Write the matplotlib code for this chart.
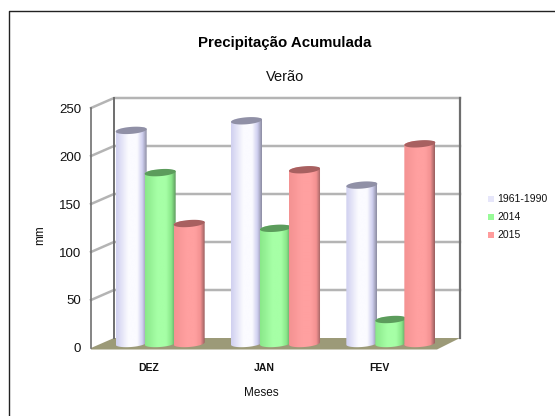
import numpy as np
import matplotlib
matplotlib.use("Agg")
import matplotlib.pyplot as plt
from matplotlib.patches import Polygon, Rectangle
from matplotlib.colors import LinearSegmentedColormap

plt.rcParams['font.family'] = ['Liberation Sans', 'DejaVu Sans']

months = ['DEZ', 'JAN', 'FEV']
series = ['1961-1990', '2014', '2015']
v_normal = [222, 232, 165]
v_2014 = [178, 120, 25]
v_2015 = [125, 181, 208]
values = [v_normal, v_2014, v_2015]
yticks = [0, 50, 100, 150, 200, 250]

W, H = 555, 416
fig = plt.figure(figsize=(W/100, H/100), dpi=100, facecolor='white')
L, R, T, B = 91, 437, 108, 348
ax = fig.add_axes([L/W, 1-B/H, (R-L)/W, (B-T)/H])
ax.set_xlim(0, 3); ax.set_ylim(0, 250)
ax.patch.set_visible(False)
for s in ['top', 'right', 'bottom']:
    ax.spines[s].set_visible(False)
ax.spines['left'].set_color('#707070')
ax.spines['left'].set_linewidth(1.2)

DX, DY = 23, 10
xu = 3/(R-L); yu = 250/(B-T)
# floor
ax.add_patch(Polygon([(0, -1.5*yu), (0, 0), (DX*xu, DY*yu), (3+DX*xu, DY*yu), (3, -1.5*yu)], closed=True,
                     facecolor='#9c9a78', edgecolor='none', zorder=1, clip_on=False))
# gridlines
for t in yticks[1:]:
    ax.plot([0, DX*xu, 3+DX*xu], [t, t+DY*yu, t+DY*yu], color='#b4b4b4', lw=1.8, zorder=1,
            clip_on=False, solid_joinstyle='miter')
ax.plot([DX*xu, DX*xu], [DY*yu, 250+DY*yu], color='#6e6e6e', lw=1.4, zorder=1.5, clip_on=False)
ax.plot([3+DX*xu]*2, [DY*yu, 250+DY*yu], color='#6e6e6e', lw=1.6, zorder=1.5, clip_on=False)

styles = [
    dict(edge='#d0d0f0', mid='#fbfbff', dark='#8e8ea4', top='#9090a6'),
    dict(edge='#8ae88a', mid='#a6ffa6', dark='#5f9a5f', top='#5c9c5c'),
    dict(edge='#f49292', mid='#ffa0a0', dark='#9a6060', top='#a86060'),
]
bw = 31*xu
step = 0.2515
offx = 11.5*xu
base = 4.5*yu
ery = 3.5*yu
tilt = 1.2*yu
for i, name in enumerate(series):
    st = styles[i]
    cmap = LinearSegmentedColormap.from_list(name, [(0, st['edge']), (.4, st['mid']), (.68, st['mid']),
                                                    (.86, st['edge']), (1, st['dark'])])
    grad = np.linspace(0, 1, 64)[None, :]
    for g, v in enumerate(values[i]):
        c = g + 0.5 + (i-1)*step + offx
        x0, x1 = c-bw/2, c+bw/2
        z = 3 + i + g*10
        top = v + base
        th = np.linspace(0, 2*np.pi, 80)
        ex = c + bw/2*np.cos(th)
        etilt = tilt*np.cos(th)
        im = ax.imshow(grad, cmap=cmap, extent=(x0, x1, 0, top + 2*tilt), aspect='auto', zorder=z,
                       interpolation='bilinear')
        th1 = np.linspace(np.pi, 2*np.pi, 40)
        bot = [(c + bw/2*np.cos(t), base + ery*np.sin(t) + tilt*np.cos(t)) for t in th1]
        th2 = np.linspace(0, np.pi, 40)
        up = [(c + bw/2*np.cos(t), top + ery*np.sin(t) + tilt*np.cos(t)) for t in th2]
        clip = Polygon(bot + up, closed=True, transform=ax.transData, facecolor='none', edgecolor='none')
        ax.add_patch(clip)
        im.set_clip_path(clip)
        ax.add_patch(Polygon(np.column_stack([ex, top + ery*np.sin(th) + etilt]), closed=True,
                             facecolor=st['top'], edgecolor='none', zorder=z+0.5, clip_on=False))
ax.set_xlim(0, 3); ax.set_ylim(0, 250)

ax.set_xticks([0.5, 1.5, 2.5])
ax.set_xticklabels(months, fontsize=7.5, fontweight='bold', color='#111111')
ax.tick_params(axis='x', length=0, pad=11)
ax.set_yticks(yticks)
ax.tick_params(axis='y', length=0, pad=7, labelsize=9.5, labelcolor='#111111')

fig.text(285/W, 1-42.5/H, 'Precipitação Acumulada', ha='center', va='center', fontsize=10.8, fontweight='bold', color='black')
fig.text(285/W, 1-77/H, 'Verão', ha='center', va='center', fontsize=10.5, color='#111111')
fig.text(40/W, 1-235/H, 'mm', ha='center', va='center', rotation=90, fontsize=8.5, color='#111111')
fig.text(261/W, 1-393.5/H, 'Meses', ha='center', va='center', fontsize=8.5, color='#111111')

leg_c = ['#e6e6fa', '#98fb98', '#ff9c9c']
for i, (name, c) in enumerate(zip(series, leg_c)):
    yy = 199 + i*18
    fig.patches.append(Rectangle((488/W, 1-(yy+3)/H), 6/W, 6/H, transform=fig.transFigure, facecolor=c, edgecolor='none'))
    fig.text(497/W, 1-yy/H, name, ha='left', va='center', fontsize=7.5, color='#111111')

fig.add_artist(plt.Line2D([8.5/W, 8.5/W, 1], [0, 1-10.5/H, 1-10.5/H], color='#222222', lw=1, transform=fig.transFigure))
fig.savefig('out.png', dpi=100)
